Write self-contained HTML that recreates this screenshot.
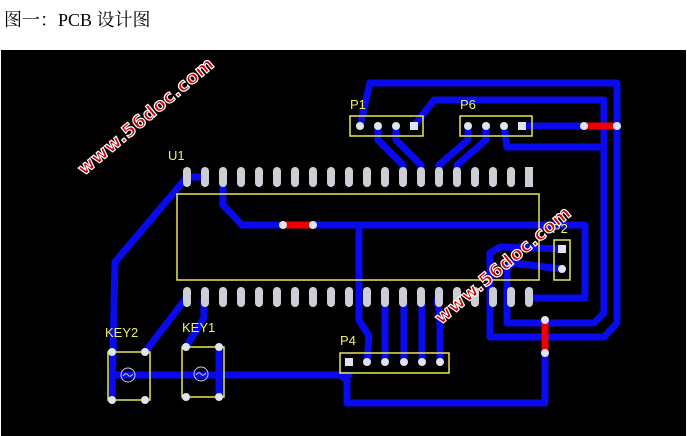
<!DOCTYPE html>
<html><head><meta charset="utf-8"><style>
body{margin:0;width:687px;height:436px;background:#fff;overflow:hidden;position:relative}
.t{position:absolute;left:4px;top:6px;font:18px "Liberation Serif","Noto Serif CJK SC",serif;color:#000;white-space:nowrap}
svg{position:absolute;left:0;top:0}
</style></head><body>
<div class="t">图一：PCB 设计图</div>
<svg width="687" height="436" viewBox="0 0 687 436">
<rect x="1" y="50" width="685" height="386" fill="#000"/>
<g fill="none" stroke="#0a0aee" stroke-width="7" stroke-linejoin="round" stroke-linecap="round">
<polyline points="187,177 115,262 112,400"/>
<line x1="187" y1="177" x2="204" y2="177"/>
<polyline points="223,177 223,205 242,225 283,225"/>
<polyline points="313,225 585,225 585,298 529,298"/>
<polyline points="359,225 359,320 369,336 367,362"/>
<line x1="385" y1="300" x2="385" y2="362"/>
<line x1="404" y1="300" x2="404" y2="362"/>
<line x1="422" y1="300" x2="422" y2="362"/>
<polyline points="440,362 440,316 437,300"/>
<polyline points="145,352 187,297"/>
<polyline points="186,347 204,318 204,300"/>
<line x1="219" y1="347" x2="219" y2="397"/>
<line x1="112" y1="375" x2="349" y2="375"/>
<polyline points="340,375 347,380 347,403 545,403 545,353"/>
<polyline points="360,126 370,83 617,83 617,323 604,337 490,337 490,253 500,247 562,249"/>
<polyline points="414,126 434,100 604,100 604,313 594,323 507,323 507,267 514,263 562,269"/>
<line x1="522" y1="126" x2="584" y2="126"/>
<polyline points="504,126 507,147 604,147"/>
<polyline points="378,126 378,140 403,165 403,177"/>
<polyline points="396,126 396,140 421,165 421,177"/>
<polyline points="468,126 468,140 439,165 439,177"/>
<polyline points="486,126 486,140 457,165 457,177"/>
</g>
<g stroke="#ee0000" stroke-width="7"><line x1="283" y1="225" x2="313" y2="225"/><line x1="584" y1="126" x2="617" y2="126"/><line x1="545" y1="320" x2="545" y2="353"/></g>
<g fill="none" stroke="#e8e850" stroke-width="1.5">
<rect x="177" y="194" width="362" height="86"/>
<rect x="108" y="352" width="42" height="48"/>
<rect x="182" y="347" width="42" height="50"/>
<rect x="340" y="353" width="109" height="20"/>
<rect x="350" y="116" width="73" height="20"/>
<rect x="460" y="116" width="72" height="20"/>
<rect x="554" y="240" width="16" height="40"/>
</g>
<g fill="none" stroke="#c8c8ff" stroke-width="1"><circle cx="128" cy="375" r="7"/><circle cx="201" cy="374" r="7"/>
<path d="M123 376 q3 -4 5 -1 t5 -1"/><path d="M196 375 q3 -4 5 -1 t5 -1"/></g>
<g fill="#dfe4f0">
<circle cx="360" cy="126" r="4"/><circle cx="378" cy="126" r="4"/><circle cx="396" cy="126" r="4"/><rect x="410" y="122" width="8" height="8"/>
<circle cx="468" cy="126" r="4"/><circle cx="486" cy="126" r="4"/><circle cx="504" cy="126" r="4"/><rect x="518" y="122" width="8" height="8"/>
<circle cx="584" cy="126" r="4"/><circle cx="617" cy="126" r="4"/><circle cx="283" cy="225" r="4"/><circle cx="313" cy="225" r="4"/>
<circle cx="545" cy="320" r="4"/><circle cx="545" cy="353" r="4"/>
<rect x="558" y="245" width="8" height="8"/><circle cx="562" cy="269" r="4"/>
<rect x="345" y="358" width="8" height="8"/><circle cx="367" cy="362" r="4"/><circle cx="385" cy="362" r="4"/><circle cx="404" cy="362" r="4"/><circle cx="422" cy="362" r="4"/><circle cx="440" cy="362" r="4"/>
<circle cx="112" cy="352" r="4"/><circle cx="145" cy="352" r="4"/><circle cx="112" cy="400" r="4"/><circle cx="145" cy="400" r="4"/>
<circle cx="186" cy="347" r="4"/><circle cx="219" cy="347" r="4"/><circle cx="186" cy="397" r="4"/><circle cx="219" cy="397" r="4"/>
</g>
<g fill="#cdcdd5">
<rect x="183" y="167" width="8" height="20" rx="4"/><rect x="201" y="167" width="8" height="20" rx="4"/><rect x="219" y="167" width="8" height="20" rx="4"/><rect x="237" y="167" width="8" height="20" rx="4"/><rect x="255" y="167" width="8" height="20" rx="4"/><rect x="273" y="167" width="8" height="20" rx="4"/><rect x="291" y="167" width="8" height="20" rx="4"/><rect x="309" y="167" width="8" height="20" rx="4"/><rect x="327" y="167" width="8" height="20" rx="4"/><rect x="345" y="167" width="8" height="20" rx="4"/><rect x="363" y="167" width="8" height="20" rx="4"/><rect x="381" y="167" width="8" height="20" rx="4"/><rect x="399" y="167" width="8" height="20" rx="4"/><rect x="417" y="167" width="8" height="20" rx="4"/><rect x="435" y="167" width="8" height="20" rx="4"/><rect x="453" y="167" width="8" height="20" rx="4"/><rect x="471" y="167" width="8" height="20" rx="4"/><rect x="489" y="167" width="8" height="20" rx="4"/><rect x="507" y="167" width="8" height="20" rx="4"/><rect x="525" y="167" width="8" height="20"/>
<rect x="183" y="287" width="8" height="20" rx="4"/><rect x="201" y="287" width="8" height="20" rx="4"/><rect x="219" y="287" width="8" height="20" rx="4"/><rect x="237" y="287" width="8" height="20" rx="4"/><rect x="255" y="287" width="8" height="20" rx="4"/><rect x="273" y="287" width="8" height="20" rx="4"/><rect x="291" y="287" width="8" height="20" rx="4"/><rect x="309" y="287" width="8" height="20" rx="4"/><rect x="327" y="287" width="8" height="20" rx="4"/><rect x="345" y="287" width="8" height="20" rx="4"/><rect x="363" y="287" width="8" height="20" rx="4"/><rect x="381" y="287" width="8" height="20" rx="4"/><rect x="399" y="287" width="8" height="20" rx="4"/><rect x="417" y="287" width="8" height="20" rx="4"/><rect x="435" y="287" width="8" height="20" rx="4"/><rect x="453" y="287" width="8" height="20" rx="4"/><rect x="471" y="287" width="8" height="20" rx="4"/><rect x="489" y="287" width="8" height="20" rx="4"/><rect x="507" y="287" width="8" height="20" rx="4"/><rect x="525" y="287" width="8" height="20" rx="4"/>
</g>
<g fill="#f0f060" font-family="Liberation Sans,sans-serif" font-size="13">
<text x="168" y="160">U1</text><text x="350" y="109">P1</text><text x="460" y="109">P6</text><text x="552" y="233">P2</text>
<text x="340" y="345">P4</text><text x="105" y="337">KEY2</text><text x="182" y="332">KEY1</text>
</g>
<g fill="#cc0000" stroke="#fff" stroke-width="1.2" font-family="DejaVu Sans,sans-serif" font-weight="bold" font-size="18" letter-spacing="0.5">
<text transform="translate(84,176) rotate(-40)">www.56doc.com</text>
<text transform="translate(441,325) rotate(-40)">www.56doc.com</text>
</g>
</svg>
</body></html>
